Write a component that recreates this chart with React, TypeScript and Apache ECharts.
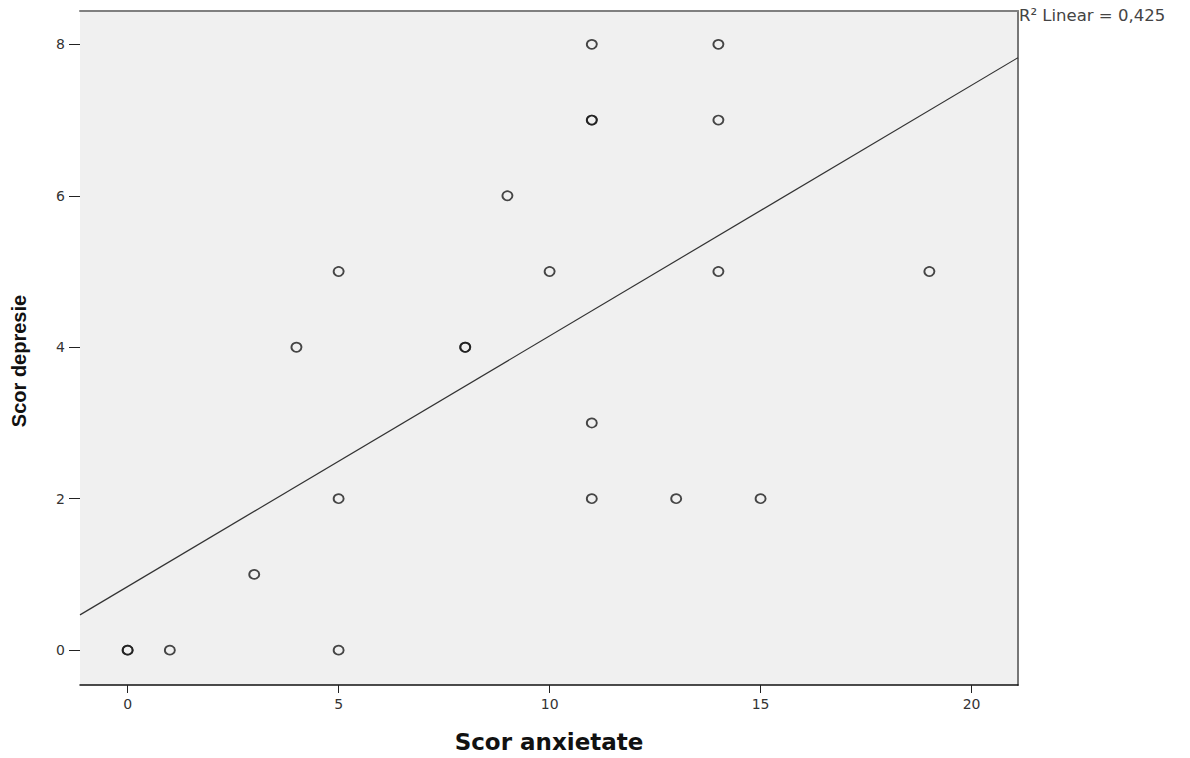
import React, { useEffect, useRef } from "react";
import * as echarts from "echarts";

// Data (anxiety score vs depression score)
const anxietyScores = [0, 0, 1, 5, 3, 5, 4, 5, 8, 8, 9, 10, 11, 11, 11, 11, 11, 13, 14, 14, 14, 15, 19];
const depressionScores = [0, 0, 0, 0, 1, 2, 4, 5, 4, 4, 6, 5, 8, 7, 7, 3, 2, 2, 8, 7, 5, 2, 5];

const xTicks = [0, 5, 10, 15, 20];
const yTicks = [0, 2, 4, 6, 8];

const xMin = -1.13;
const xMax = 21.1;
const yMin = -0.46;
const yMax = 8.44;

// Linear fit
const fitIntercept = 0.84;
const fitSlope = 0.331;
const rSquaredLabel = "R² Linear = 0,425";

const xName = "Scor anxietate";
const yName = "Scor depresie";

export default function App() {
  const ref = useRef<HTMLDivElement>(null);

  useEffect(() => {
    if (!ref.current) return;
    const chart = echarts.init(ref.current, null, { renderer: "svg" });
    const points = anxietyScores.map((x, i) => [x, depressionScores[i]]);
    const fitLine = [
      [xMin, fitIntercept + fitSlope * xMin],
      [xMax, fitIntercept + fitSlope * xMax],
    ];
    const tickFont = { fontFamily: "DejaVu Sans", fontSize: 14, color: "#333" };

    chart.setOption({
      animation: false,
      backgroundColor: "#ffffff",
      grid: {
        left: 80,
        right: 172,
        top: 11,
        bottom: 70,
        show: true,
        backgroundColor: "#f0f0f0",
        borderWidth: 0,
      },
      xAxis: [
        {
          type: "value",
          min: xMin,
          max: xMax,
          position: "bottom",
          name: xName,
          nameLocation: "middle",
          nameGap: 45,
          nameTextStyle: {
            fontFamily: "DejaVu Sans",
            fontWeight: "bold",
            fontSize: 23,
            color: "#111",
          },
          splitLine: { show: false },
          axisLine: { show: true, onZero: false, lineStyle: { color: "#111", width: 1.5 } },
          axisTick: { show: true, length: 8, customValues: xTicks, lineStyle: { color: "#222" } },
          axisLabel: { customValues: xTicks, margin: 12, ...tickFont },
        },
        {
          type: "value",
          min: xMin,
          max: xMax,
          position: "top",
          splitLine: { show: false },
          axisLine: { show: true, onZero: false, lineStyle: { color: "#808080", width: 2 } },
          axisTick: { show: false },
          axisLabel: { show: false },
        },
      ],
      yAxis: [
        {
          type: "value",
          min: yMin,
          max: yMax,
          position: "left",
          splitLine: { show: false },
          axisLine: { show: false, onZero: false },
          axisTick: { show: true, length: 11, customValues: yTicks, lineStyle: { color: "#222" } },
          axisLabel: { customValues: yTicks, margin: 15, ...tickFont },
        },
        {
          type: "value",
          min: yMin,
          max: yMax,
          position: "right",
          splitLine: { show: false },
          axisLine: { show: true, onZero: false, lineStyle: { color: "#777", width: 2 } },
          axisTick: { show: false },
          axisLabel: { show: false },
        },
      ],
      graphic: [
        {
          type: "text",
          left: 1019,
          top: 7,
          style: {
            text: rSquaredLabel,
            fontFamily: "DejaVu Sans",
            fontSize: 16.5,
            fill: "#444",
          },
        },
        {
          type: "text",
          x: 19,
          y: 361,
          rotation: Math.PI / 2,
          style: {
            text: yName,
            fontFamily: "Liberation Sans",
            fontWeight: "bold",
            fontSize: 20,
            fill: "#111",
            align: "center",
            verticalAlign: "middle",
          },
        },
      ],
      series: [
        {
          type: "line",
          data: fitLine,
          showSymbol: false,
          symbol: "none",
          lineStyle: { color: "#333", width: 1.2 },
          silent: true,
          z: 2,
        },
        {
          type: "scatter",
          data: points,
          symbol: "circle",
          symbolSize: [10, 9],
          itemStyle: {
            color: "rgba(0,0,0,0)",
            borderColor: "#1a1a1a",
            borderWidth: 1.8,
          },
          z: 3,
        },
      ],
    });

    return () => chart.dispose();
  }, []);

  return (
    <div
      ref={ref}
      style={{ position: "fixed", left: 0, top: 0, width: 1190, height: 758 }}
    />
  );
}
